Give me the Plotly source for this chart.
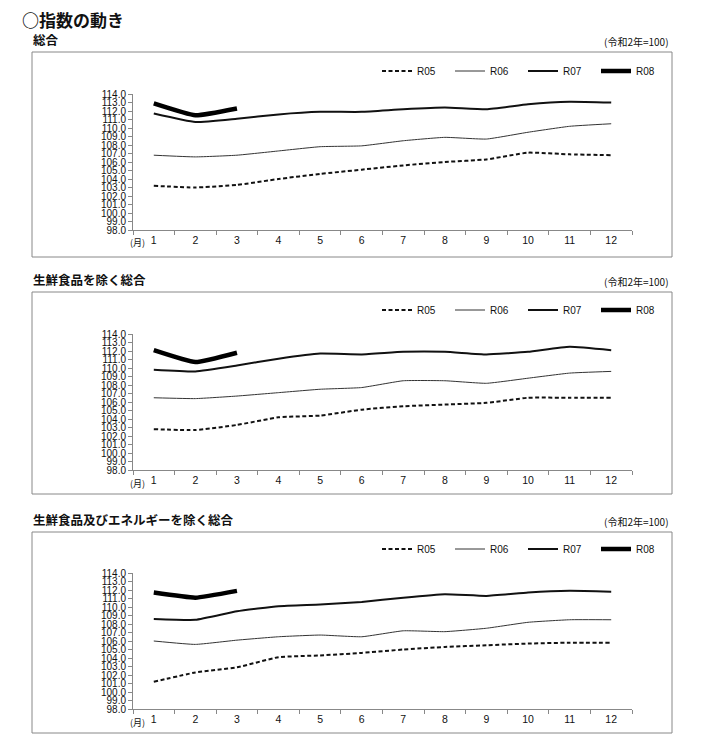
import plotly.graph_objects as go

# ---- data ----
months = [str(m) for m in range(1, 13)]
series_names = ["R05", "R06", "R07", "R08"]

panel_titles = ["総合", "生鮮食品を除く総合", "生鮮食品及びエネルギーを除く総合"]

# 総合
p1_r05 = [103.2, 103.0, 103.3, 104.0, 104.6, 105.1, 105.6, 106.0, 106.3, 107.1, 106.9, 106.8]
p1_r06 = [106.8, 106.6, 106.8, 107.3, 107.8, 107.9, 108.5, 108.9, 108.7, 109.5, 110.2, 110.5]
p1_r07 = [111.7, 110.7, 111.1, 111.6, 111.9, 111.9, 112.2, 112.4, 112.2, 112.8, 113.1, 113.0]
p1_r08 = [112.9, 111.5, 112.3]

# 生鮮食品を除く総合
p2_r05 = [102.8, 102.7, 103.3, 104.2, 104.4, 105.1, 105.5, 105.7, 105.9, 106.5, 106.5, 106.5]
p2_r06 = [106.5, 106.4, 106.7, 107.1, 107.5, 107.7, 108.5, 108.5, 108.2, 108.8, 109.4, 109.6]
p2_r07 = [109.8, 109.6, 110.3, 111.1, 111.7, 111.6, 111.9, 111.9, 111.6, 111.9, 112.5, 112.1]
p2_r08 = [112.1, 110.7, 111.8]

# 生鮮食品及びエネルギーを除く総合
p3_r05 = [101.2, 102.3, 102.9, 104.1, 104.3, 104.6, 105.0, 105.3, 105.5, 105.7, 105.8, 105.8]
p3_r06 = [106.0, 105.6, 106.1, 106.5, 106.7, 106.5, 107.2, 107.1, 107.5, 108.2, 108.5, 108.5]
p3_r07 = [108.6, 108.5, 109.5, 110.1, 110.3, 110.6, 111.1, 111.5, 111.3, 111.7, 111.9, 111.8]
p3_r08 = [111.7, 111.1, 111.9]

panels = [
    [p1_r05, p1_r06, p1_r07, p1_r08],
    [p2_r05, p2_r06, p2_r07, p2_r08],
    [p3_r05, p3_r06, p3_r07, p3_r08],
]

y_ticks = [98.0 + i for i in range(17)]

# ---- layout helpers (page pixel -> paper); the page body has an 8px margin ----
OFF = 8
W, H = 701 - OFF, 741 - OFF


def px(x):
    return (x - OFF) / W


def py(y):
    return 1 - (y - OFF) / H


styles = {
    "R05": dict(color="#111", width=2, dash="4px,2.5px"),
    "R06": dict(color="#333", width=1),
    "R07": dict(color="#111", width=2),
    "R08": dict(color="#000", width=4.5),
}

box_tops = [52, 292, 532]
box_bottoms = [257, 494, 733]
plot_tops = [94, 334, 573]
plot_h = 136
legend_y = [71, 310, 549]

num_font = "Liberation Sans, Arial, sans-serif"
jp_font = "Noto Sans CJK JP, sans-serif"

fig = go.Figure()
layout = {}
shapes = []
annotations = []

for i, (title, data) in enumerate(zip(panel_titles, panels)):
    k = "" if i == 0 else str(i + 1)
    leg = "legend" + k
    for name, vals in zip(series_names, data):
        fig.add_trace(go.Scatter(
            x=months[:len(vals)], y=vals, name=name, mode="lines",
            line=dict(shape="spline", smoothing=0.4, **styles[name]),
            xaxis="x" + k, yaxis="y" + k, legend=leg,
        ))

    top = plot_tops[i]
    bottom = top + plot_h
    layout["xaxis" + k] = dict(
        domain=[px(133), px(632)], anchor="y" + k,
        type="category", categoryorder="array", categoryarray=months,
        range=[-0.5, 11.5],
        showline=True, linecolor="#888", linewidth=1,
        ticks="outside", tickson="boundaries", ticklen=4, tickcolor="#888",
        tickfont=dict(family=num_font, size=10.5, color="#111"),
        showgrid=False, zeroline=False,
    )
    layout["yaxis" + k] = dict(
        domain=[py(bottom), py(top)], anchor="x" + k,
        range=[98, 114], tickvals=y_ticks, tickformat=".1f",
        showline=True, linecolor="#888", linewidth=1,
        ticks="outside", ticklen=4, tickcolor="#888",
        tickfont=dict(family=num_font, size=10, color="#111"),
        showgrid=False, zeroline=False,
    )
    layout[leg] = dict(
        orientation="h", x=px(377), y=py(legend_y[i]),
        xanchor="left", yanchor="middle",
        entrywidth=28, entrywidthmode="pixels",
        font=dict(family=num_font, size=10, color="#111"),
        bgcolor="rgba(0,0,0,0)", itemclick=False, itemdoubleclick=False,
    )

    shapes.append(dict(
        type="rect", xref="paper", yref="paper",
        x0=px(32), x1=px(672), y0=py(box_bottoms[i]), y1=py(box_tops[i]),
        line=dict(color="#888", width=1), fillcolor="rgba(0,0,0,0)",
    ))
    annotations.append(dict(
        text="<b>" + title + "</b>", xref="paper", yref="paper",
        x=px(31), y=py(box_tops[i] - 1), xanchor="left", yanchor="bottom",
        showarrow=False, font=dict(family=jp_font, size=12.5, color="#111"),
    ))
    annotations.append(dict(
        text="(令和2年=100)", xref="paper", yref="paper",
        x=px(671), y=py(box_tops[i] - 1), xanchor="right", yanchor="bottom",
        showarrow=False, font=dict(family=jp_font, size=10, color="#111"),
    ))
    annotations.append(dict(
        text="(月)", xref="paper", yref="paper",
        x=px(137), y=py(bottom + 13), xanchor="center", yanchor="middle",
        showarrow=False, font=dict(family=jp_font, size=9, color="#111"),
    ))

annotations.append(dict(
    text="<b>○指数の動き</b>", xref="paper", yref="paper",
    x=px(20), y=py(20), xanchor="left", yanchor="middle",
    showarrow=False, font=dict(family=jp_font, size=17, color="#111"),
))

fig.update_layout(
    width=W, height=H,
    margin=dict(l=0, r=0, t=0, b=0, autoexpand=False),
    paper_bgcolor="white", plot_bgcolor="white",
    shapes=shapes, annotations=annotations,
    showlegend=True,
    **layout,
)

fig.write_html("out.html")
